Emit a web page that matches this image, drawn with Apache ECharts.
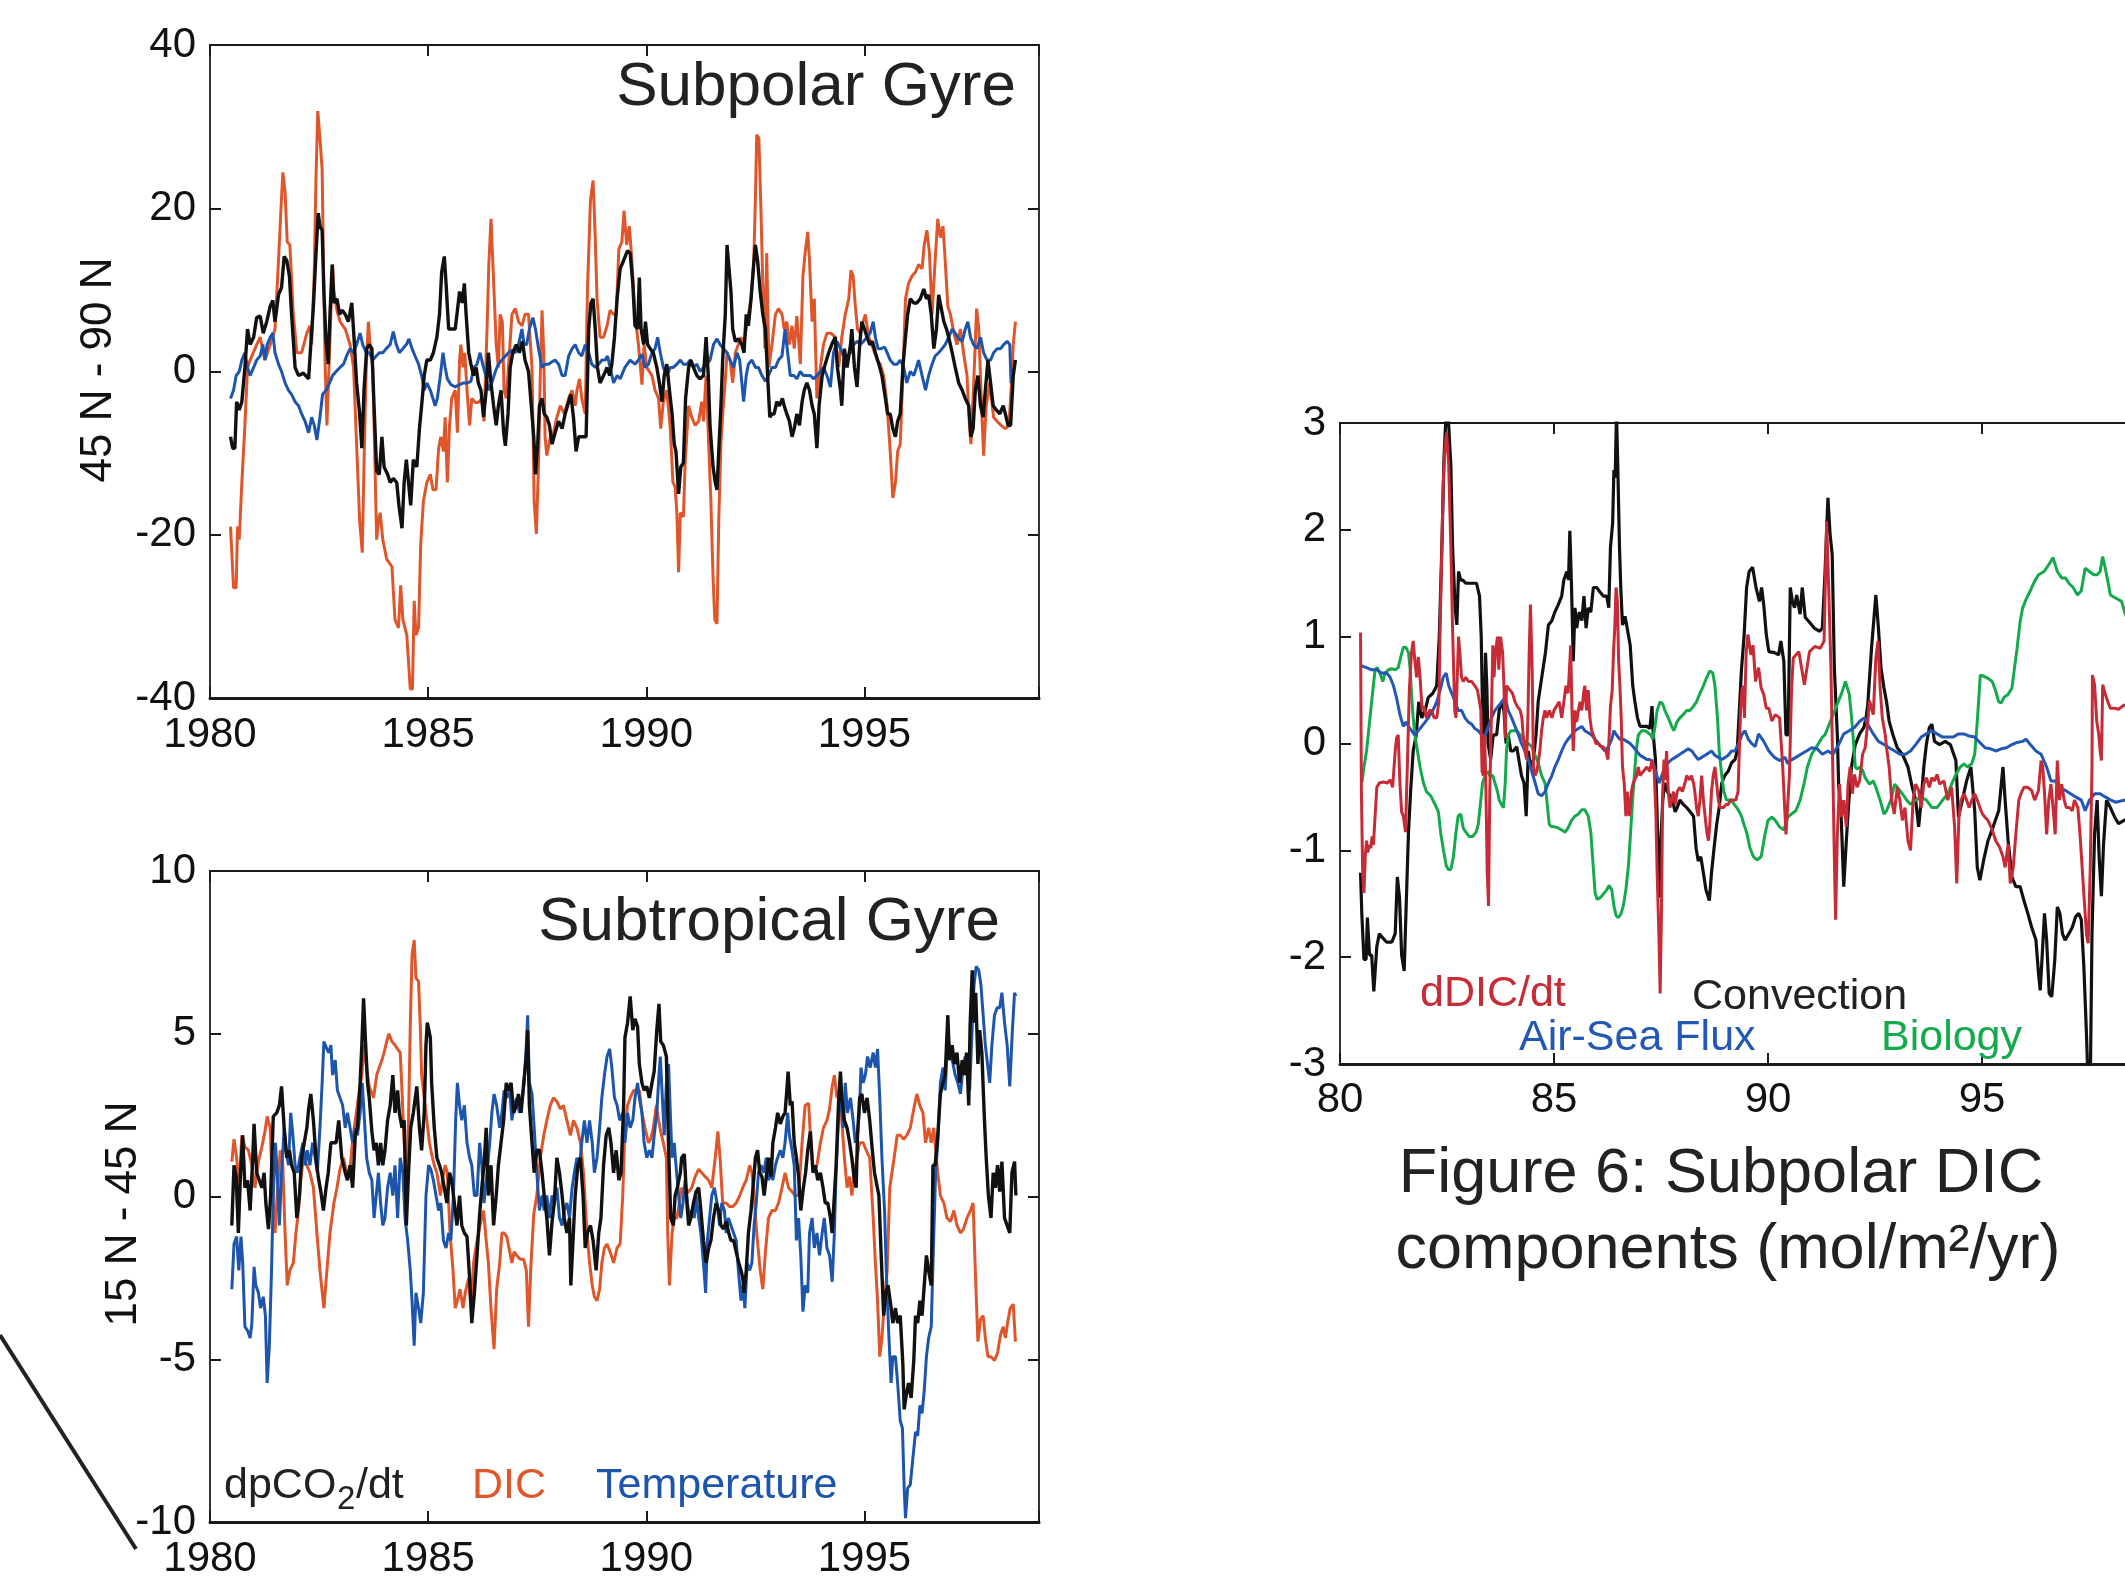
<!DOCTYPE html>
<html>
<head>
<meta charset="utf-8">
<script src="https://cdn.jsdelivr.net/npm/echarts@6/dist/echarts.min.js"></script>
<style>
html, body { margin: 0; padding: 0; background: #fff; }
#chart { width: 2125px; height: 1584px; }
</style>
</head>
<body>
<div id="chart"></div>
<script>
// Subpolar gyre (45N-90N): [year, value]
var spDic = [[1980.47,-19],[1980.54,-26.5],[1980.60,-26.5],[1980.63,-19],[1980.67,-20.6],[1980.73,-13.6],[1980.80,-6.6],[1980.86,0.5],[1980.92,1.4],[1981.07,3.3],[1981.15,4.2],[1981.26,1.4],[1981.38,3.3],[1981.49,5.2],[1981.57,13.6],[1981.62,19.2],[1981.67,24.4],[1981.72,22],[1981.77,15.9],[1981.83,15.5],[1981.91,7],[1981.99,2.3],[1982.10,2.3],[1982.22,4.7],[1982.29,5.6],[1982.33,3.3],[1982.39,12.2],[1982.43,23.9],[1982.47,31.9],[1982.52,28.6],[1982.57,24.8],[1982.60,13.1],[1982.64,0.5],[1982.68,-6.6],[1982.72,-0.5],[1982.77,7],[1982.81,13.1],[1982.84,9.8],[1982.91,7.5],[1982.98,6.1],[1983.10,5.2],[1983.21,3.3],[1983.29,0.5],[1983.36,-8.9],[1983.43,-18.3],[1983.49,-22.2],[1983.53,-11.2],[1983.58,0.5],[1983.63,6.1],[1983.67,3.3],[1983.73,0.5],[1983.78,-11.2],[1983.82,-20.6],[1983.86,-18.3],[1983.90,-17.3],[1983.96,-20.6],[1984.05,-23],[1984.17,-23.9],[1984.24,-30.4],[1984.32,-31.4],[1984.37,-26.2],[1984.42,-30.4],[1984.51,-32.3],[1984.59,-38.9],[1984.64,-38.9],[1984.68,-28.1],[1984.72,-32.3],[1984.78,-31.4],[1984.83,-21.1],[1984.89,-15.9],[1984.97,-13.6],[1985.05,-12.6],[1985.11,-14.5],[1985.18,-14.5],[1985.24,-9.4],[1985.29,-8],[1985.35,-9.8],[1985.39,-5.6],[1985.44,-13.6],[1985.49,-6.6],[1985.54,-3.3],[1985.62,-2.3],[1985.67,-7.5],[1985.72,1.4],[1985.75,3.3],[1985.80,0.5],[1985.84,2.3],[1985.89,-2.3],[1985.95,-6.6],[1986.00,-3.3],[1986.08,-3.8],[1986.15,-3.8],[1986.23,-3.3],[1986.28,-6.1],[1986.35,5.2],[1986.39,13.1],[1986.44,18.7],[1986.48,18.7],[1986.51,9.8],[1986.56,3.3],[1986.61,0.5],[1986.65,7],[1986.70,6.1],[1986.74,-2.3],[1986.79,-3.3],[1986.84,0.5],[1986.92,7],[1987.00,7.7],[1987.07,6.1],[1987.15,5.6],[1987.22,7],[1987.30,7],[1987.38,0.5],[1987.43,-15.9],[1987.48,-19.9],[1987.53,-11.2],[1987.57,-0.5],[1987.61,7.5],[1987.65,2.3],[1987.68,-8],[1987.72,-10.3],[1987.80,-8],[1987.87,-7.5],[1987.95,-5.6],[1988.03,-4.2],[1988.12,-5.2],[1988.22,-3.3],[1988.30,-2.3],[1988.37,-4.2],[1988.41,-2.3],[1988.47,-0.9],[1988.52,-3.3],[1988.60,-5.2],[1988.65,9.8],[1988.72,21],[1988.78,23.4],[1988.83,16.4],[1988.87,8.9],[1988.94,4.2],[1989.02,4.2],[1989.10,5.6],[1989.17,7.5],[1989.25,7],[1989.31,7],[1989.37,15],[1989.44,15.9],[1989.49,19.7],[1989.55,15.5],[1989.61,17.8],[1989.67,13.6],[1989.74,7],[1989.82,3.3],[1989.90,-1.6],[1989.95,3.3],[1990.01,0.5],[1990.13,-0.5],[1990.20,-2.3],[1990.28,-3.3],[1990.33,-7],[1990.39,-3.7],[1990.47,-2.3],[1990.55,-7],[1990.61,-13.6],[1990.66,-14.1],[1990.70,-17.3],[1990.74,-24.6],[1990.78,-17.3],[1990.85,-17.8],[1990.89,-11.2],[1990.97,-4.2],[1991.04,-5.6],[1991.12,-6.6],[1991.20,-6.1],[1991.27,-3.7],[1991.31,-6.1],[1991.37,-0.5],[1991.43,-8.9],[1991.48,-15.9],[1991.53,-25.3],[1991.57,-30.4],[1991.62,-30.9],[1991.66,-18.3],[1991.71,-8.9],[1991.75,-5.2],[1991.80,-1.9],[1991.85,2.3],[1991.92,1.4],[1991.98,-1.4],[1992.04,2.3],[1992.11,3.3],[1992.17,4.2],[1992.23,3.3],[1992.29,5.2],[1992.34,7],[1992.40,8.9],[1992.46,13.1],[1992.50,21.1],[1992.53,29],[1992.58,28.6],[1992.63,19.2],[1992.67,10.8],[1992.72,2.8],[1992.76,14.5],[1992.81,0.5],[1992.88,3.3],[1992.96,7],[1993.03,7.7],[1993.11,7],[1993.16,5.2],[1993.22,6.1],[1993.28,3.3],[1993.34,5.6],[1993.39,2.8],[1993.45,6.8],[1993.53,0.9],[1993.59,11.7],[1993.64,14.5],[1993.70,17.1],[1993.74,13.6],[1993.80,6.1],[1993.85,8.9],[1993.91,-3.3],[1993.99,0.5],[1994.06,3.3],[1994.14,4.7],[1994.23,4.7],[1994.33,4.2],[1994.41,0.5],[1994.48,4.2],[1994.56,7],[1994.64,8.9],[1994.69,12.4],[1994.74,11.7],[1994.79,8],[1994.84,5.2],[1994.90,4.7],[1994.97,6.1],[1995.02,7],[1995.10,4.2],[1995.20,2.8],[1995.29,1.4],[1995.36,0.9],[1995.44,-0.5],[1995.52,-4.2],[1995.59,-9.8],[1995.65,-15.5],[1995.71,-13.6],[1995.76,-9.8],[1995.82,-8.9],[1995.88,-0.5],[1995.94,8.9],[1996.01,10.8],[1996.09,11.7],[1996.17,12.2],[1996.24,13.1],[1996.32,12.6],[1996.37,15.5],[1996.43,17.3],[1996.49,14.5],[1996.55,7],[1996.62,13.6],[1996.68,18.7],[1996.74,16.4],[1996.80,17.8],[1996.85,13.6],[1996.91,8],[1996.97,7],[1997.05,4.7],[1997.12,3.3],[1997.20,5.2],[1997.27,2.3],[1997.35,-0.5],[1997.41,-7],[1997.44,-8.9],[1997.50,-1.9],[1997.57,7.7],[1997.62,5.2],[1997.67,-2.3],[1997.73,-10.3],[1997.79,-4.2],[1997.87,-1.4],[1997.96,-5.6],[1998.04,-6.1],[1998.13,-6.6],[1998.23,-7],[1998.31,-6.6],[1998.36,-2.3],[1998.41,3.3],[1998.46,6.1]];

var spTemp = [[1980.47,-3.3],[1980.54,-2.3],[1980.60,-0.5],[1980.67,0],[1980.73,1.4],[1980.80,2.3],[1980.86,0.5],[1980.92,-0.5],[1981.00,0.5],[1981.07,1.4],[1981.15,1.9],[1981.21,3.3],[1981.26,1.4],[1981.31,3.3],[1981.38,4.2],[1981.44,4.7],[1981.49,2.3],[1981.57,0.9],[1981.64,0],[1981.72,-1.4],[1981.80,-2.3],[1981.87,-2.8],[1981.95,-3.7],[1982.03,-4.2],[1982.10,-5.2],[1982.18,-6.1],[1982.26,-7.5],[1982.33,-5.6],[1982.39,-6.6],[1982.45,-8.4],[1982.52,-5.6],[1982.58,-2.8],[1982.66,-2.3],[1982.74,-1.4],[1982.81,-0.5],[1982.89,0],[1982.98,0.5],[1983.06,0.9],[1983.13,1.9],[1983.21,2.8],[1983.29,2.3],[1983.36,3.3],[1983.44,4.7],[1983.50,3.3],[1983.58,2.3],[1983.65,2.3],[1983.73,1.4],[1983.81,1.9],[1983.88,2.3],[1983.96,2.3],[1984.04,2.8],[1984.13,3.3],[1984.20,4.9],[1984.27,3.3],[1984.34,2.3],[1984.42,2.8],[1984.50,3.3],[1984.56,4],[1984.63,2.8],[1984.70,1.9],[1984.78,0.9],[1984.85,-0.5],[1984.91,-2.3],[1984.97,-1.4],[1985.05,-2.3],[1985.11,-3.3],[1985.16,-4.2],[1985.21,-3.3],[1985.28,-0.5],[1985.34,2.3],[1985.39,0.5],[1985.44,-0.9],[1985.52,-1.6],[1985.62,-1.9],[1985.72,-1.6],[1985.81,-1.4],[1985.90,-1.4],[1985.98,-1.2],[1986.05,0.5],[1986.12,0.9],[1986.19,2.3],[1986.25,0.9],[1986.32,-0.5],[1986.38,-2.3],[1986.46,-1.4],[1986.54,0],[1986.61,0.9],[1986.69,1.4],[1986.77,1.9],[1986.84,2.3],[1986.92,2.6],[1987.00,2.3],[1987.07,3.3],[1987.15,5.2],[1987.20,3.3],[1987.26,3.3],[1987.32,5.2],[1987.40,6.6],[1987.46,5.2],[1987.53,2.8],[1987.61,0.5],[1987.68,0.9],[1987.76,0.9],[1987.84,1.2],[1987.91,1.4],[1987.99,0.9],[1988.07,-0.5],[1988.14,-0.5],[1988.22,1.9],[1988.30,2.8],[1988.37,3.3],[1988.45,2.3],[1988.52,1.9],[1988.60,3.3],[1988.68,2.3],[1988.75,0.9],[1988.83,0.5],[1988.91,0.9],[1988.98,1.4],[1989.06,1.4],[1989.11,1.9],[1989.17,0.5],[1989.25,-1.4],[1989.33,-0.5],[1989.40,-0.9],[1989.51,0.5],[1989.63,1.4],[1989.74,0.9],[1989.82,1.4],[1989.90,2.1],[1989.97,0.5],[1990.05,0.9],[1990.13,2.3],[1990.20,2.8],[1990.26,4.2],[1990.32,2.3],[1990.39,0.5],[1990.47,-0.5],[1990.55,0.5],[1990.62,0.5],[1990.70,0.9],[1990.78,1.4],[1990.85,0.9],[1990.93,0.9],[1991.01,1.4],[1991.08,0.5],[1991.16,0.9],[1991.23,0],[1991.31,0.5],[1991.39,0.9],[1991.46,1.4],[1991.54,3.3],[1991.62,4],[1991.69,3.3],[1991.77,2.8],[1991.85,2.3],[1991.92,1.4],[1992.00,0.5],[1992.08,2.3],[1992.14,1.4],[1992.19,-1.4],[1992.23,-3.7],[1992.29,-0.5],[1992.34,0.9],[1992.42,1.4],[1992.50,0.5],[1992.57,0.5],[1992.65,-0.5],[1992.73,-1.2],[1992.80,-0.5],[1992.88,0.5],[1992.96,0.5],[1993.03,1.4],[1993.11,1.9],[1993.18,5.2],[1993.24,2.3],[1993.30,-0.5],[1993.38,-0.5],[1993.45,-0.9],[1993.53,0],[1993.60,-0.5],[1993.68,-0.5],[1993.76,-0.5],[1993.83,-0.9],[1993.91,-0.5],[1993.99,0],[1994.06,0.5],[1994.14,-0.5],[1994.22,-1.9],[1994.29,2.3],[1994.37,3.7],[1994.45,2.8],[1994.52,1.9],[1994.60,1.9],[1994.68,2.3],[1994.75,3.3],[1994.83,3.7],[1994.90,3.3],[1994.98,3.7],[1995.06,4.2],[1995.13,4.7],[1995.20,6.1],[1995.25,4.2],[1995.31,2.8],[1995.38,2.8],[1995.46,3],[1995.52,2.3],[1995.59,1.4],[1995.67,0.9],[1995.75,0.9],[1995.82,1.4],[1995.90,0.5],[1995.97,-1.4],[1996.05,0],[1996.13,-0.5],[1996.19,0.5],[1996.24,1.4],[1996.32,-0.5],[1996.40,-2.3],[1996.47,-0.5],[1996.55,0.9],[1996.62,1.9],[1996.70,2.3],[1996.78,2.8],[1996.85,3.3],[1996.93,4.2],[1997.01,5.2],[1997.08,4.7],[1997.16,4],[1997.24,3.7],[1997.31,5.2],[1997.37,6.1],[1997.43,4.2],[1997.50,3.3],[1997.58,2.8],[1997.66,4.2],[1997.73,2.3],[1997.81,1.4],[1997.89,1.4],[1997.96,2.3],[1998.04,2.8],[1998.12,2.8],[1998.19,3.3],[1998.27,3.7],[1998.33,3.3],[1998.36,-1.4],[1998.39,0.5]];

var spPco2 = [[1980.47,-8],[1980.52,-9.4],[1980.57,-9.4],[1980.61,-3.7],[1980.67,-4.7],[1980.73,-3.7],[1980.80,0.5],[1980.86,5.2],[1980.92,3.3],[1981.00,4.2],[1981.07,6.6],[1981.15,6.8],[1981.22,4.7],[1981.30,6.1],[1981.38,8],[1981.44,8.7],[1981.49,6.1],[1981.57,9.4],[1981.64,10.3],[1981.70,14.1],[1981.76,13.6],[1981.82,11.7],[1981.87,7],[1981.95,0.5],[1982.03,-0.5],[1982.14,-0.2],[1982.26,-0.9],[1982.31,3.3],[1982.37,8],[1982.43,14.5],[1982.48,19.4],[1982.52,17.8],[1982.57,17.3],[1982.61,9.8],[1982.66,3.7],[1982.71,0.9],[1982.75,7],[1982.80,13.1],[1982.84,8.4],[1982.91,8.9],[1982.97,7],[1983.03,7.5],[1983.10,7],[1983.17,6.1],[1983.25,8.4],[1983.30,4.2],[1983.36,-1.4],[1983.43,-5.2],[1983.48,-9.4],[1983.53,-2.3],[1983.59,2.8],[1983.65,3.3],[1983.71,2.8],[1983.76,-4.2],[1983.82,-12.2],[1983.88,-12.6],[1983.94,-8],[1983.99,-11.7],[1984.07,-12.6],[1984.13,-13.6],[1984.20,-13.1],[1984.28,-13.6],[1984.33,-16.4],[1984.40,-19.2],[1984.45,-13.6],[1984.50,-10.8],[1984.55,-13.6],[1984.60,-16.4],[1984.66,-10.8],[1984.74,-11.7],[1984.80,-7],[1984.85,-4.2],[1984.91,-0.5],[1984.97,1.4],[1985.05,1.4],[1985.12,2.3],[1985.20,4.2],[1985.26,7],[1985.31,12.2],[1985.37,14.1],[1985.41,10.8],[1985.47,5.2],[1985.54,5.2],[1985.62,5.2],[1985.66,7],[1985.72,9.8],[1985.78,8.4],[1985.83,10.8],[1985.87,7],[1985.93,2.3],[1985.98,0.9],[1986.04,-0.5],[1986.10,0.5],[1986.15,-1.4],[1986.21,-2.3],[1986.27,-5.6],[1986.33,-2.3],[1986.38,2.3],[1986.44,-1.4],[1986.50,-4.2],[1986.56,-6.6],[1986.61,-4.2],[1986.67,-2.3],[1986.73,-7.5],[1986.77,-9.1],[1986.83,-5.2],[1986.88,0.5],[1986.94,2.3],[1987.02,3.3],[1987.09,2.3],[1987.16,3.7],[1987.22,1.4],[1987.30,0],[1987.35,-3.3],[1987.42,-8],[1987.46,-12.6],[1987.51,-8.9],[1987.55,-4.2],[1987.61,-3.3],[1987.66,-5.2],[1987.72,-5.6],[1987.78,-6.6],[1987.84,-8.9],[1987.91,-7.5],[1987.99,-6.1],[1988.07,-7],[1988.14,-5.2],[1988.22,-3.7],[1988.27,-2.8],[1988.33,-5.6],[1988.39,-9.8],[1988.45,-8],[1988.50,-8],[1988.56,-8],[1988.62,-8],[1988.68,5.2],[1988.73,8.4],[1988.78,8.9],[1988.83,5.2],[1988.88,0.5],[1988.94,-1.4],[1989.02,-0.5],[1989.10,0.5],[1989.16,-0.5],[1989.21,0.9],[1989.27,4.2],[1989.33,8.9],[1989.40,12.6],[1989.48,13.6],[1989.57,14.8],[1989.63,14.5],[1989.69,10.8],[1989.74,5.6],[1989.80,5.2],[1989.84,11.5],[1989.88,5.2],[1989.94,3.3],[1989.98,6.1],[1990.03,3.3],[1990.09,2.8],[1990.16,2.3],[1990.24,0.5],[1990.30,-1.4],[1990.36,-3.7],[1990.41,-0.5],[1990.47,0.9],[1990.53,-2.3],[1990.59,-5.2],[1990.64,-8.9],[1990.68,-9.8],[1990.74,-15],[1990.79,-11.7],[1990.85,-11.2],[1990.90,-3.3],[1990.97,0.5],[1991.02,1.4],[1991.08,0.5],[1991.16,-0.5],[1991.23,-0.9],[1991.31,-0.5],[1991.37,4.2],[1991.42,-0.5],[1991.46,-6.6],[1991.53,-11.7],[1991.58,-13.6],[1991.62,-14.5],[1991.66,-9.8],[1991.71,-4.2],[1991.75,1.4],[1991.81,7],[1991.85,15.5],[1991.89,15.5],[1991.94,9.8],[1991.98,5.2],[1992.04,3.7],[1992.11,4],[1992.19,3.3],[1992.24,2.3],[1992.29,7],[1992.34,5.6],[1992.40,8.9],[1992.46,13.1],[1992.50,15.5],[1992.55,13.6],[1992.61,9.8],[1992.67,7],[1992.73,5.2],[1992.78,-0.5],[1992.83,-5.6],[1992.88,-5.2],[1992.93,-5.2],[1992.99,-3.7],[1993.05,-4.2],[1993.12,-3.3],[1993.16,-4.2],[1993.22,-5.2],[1993.28,-6.1],[1993.34,-8],[1993.39,-7],[1993.45,-5.2],[1993.51,-6.6],[1993.57,-3.7],[1993.62,-2.3],[1993.68,-1.4],[1993.74,-2.3],[1993.80,-4.2],[1993.85,-5.2],[1993.91,-9.4],[1993.96,-4.2],[1994.03,-0.5],[1994.10,0.9],[1994.18,2.3],[1994.25,3.3],[1994.33,4.2],[1994.38,0.5],[1994.45,-2.3],[1994.48,-4.2],[1994.54,2.8],[1994.60,0.5],[1994.68,3.3],[1994.71,5.2],[1994.77,0.5],[1994.83,-1.9],[1994.89,3.3],[1994.94,6.1],[1995.00,5.2],[1995.06,4.2],[1995.12,3.3],[1995.18,3.7],[1995.25,2.3],[1995.33,0.9],[1995.40,-0.5],[1995.48,-3.3],[1995.53,-5.2],[1995.59,-5.2],[1995.65,-7],[1995.71,-8],[1995.76,-6.1],[1995.82,-5.2],[1995.88,0.5],[1995.94,4.2],[1995.99,7],[1996.05,8.9],[1996.13,8.4],[1996.20,8.4],[1996.28,8.9],[1996.36,10.1],[1996.42,8.9],[1996.47,9.4],[1996.53,7],[1996.59,2.8],[1996.65,5.2],[1996.70,9.4],[1996.75,8],[1996.82,6.1],[1996.88,5.2],[1996.93,4.2],[1997.01,2.3],[1997.08,0.5],[1997.16,-1.4],[1997.24,-2.3],[1997.31,-3.3],[1997.39,-4.2],[1997.44,-8],[1997.49,-7],[1997.54,-2.3],[1997.60,-0.5],[1997.66,-4.2],[1997.72,-5.6],[1997.77,-2.3],[1997.83,1.4],[1997.89,-1.4],[1997.95,-4.2],[1998.02,-4.7],[1998.10,-5.2],[1998.18,-4.2],[1998.23,-5.2],[1998.29,-6.6],[1998.35,-6.6],[1998.41,-0.5],[1998.46,1.4]];

// Subtropical gyre (15N-45N)
var stDic = [[1980.50,1.07],[1980.55,1.76],[1980.61,1.19],[1980.67,0.27],[1980.73,1.88],[1980.80,1.53],[1980.88,1.42],[1980.96,0.96],[1981.03,0.27],[1981.11,1.07],[1981.19,1.53],[1981.26,2.0],[1981.31,2.46],[1981.38,2.1],[1981.44,0.03],[1981.49,-1.12],[1981.54,0.03],[1981.61,1.42],[1981.67,0.96],[1981.72,-1.12],[1981.77,-2.73],[1981.83,-2.27],[1981.91,-2.04],[1981.97,-1.12],[1982.03,-0.43],[1982.08,0.5],[1982.14,1.19],[1982.22,0.96],[1982.29,0.73],[1982.37,0.27],[1982.45,-1.12],[1982.52,-2.27],[1982.61,-3.43],[1982.68,-2.27],[1982.75,-1.12],[1982.84,-0.2],[1982.91,0.27],[1982.98,0.84],[1983.06,1.19],[1983.13,0.73],[1983.21,0.84],[1983.27,1.76],[1983.33,2.34],[1983.40,3.03],[1983.48,3.73],[1983.53,4.65],[1983.59,3.96],[1983.65,3.38],[1983.75,3.03],[1983.82,3.73],[1983.88,3.96],[1983.94,4.19],[1983.99,4.42],[1984.05,4.76],[1984.10,5.0],[1984.17,4.76],[1984.24,4.65],[1984.30,4.53],[1984.36,4.42],[1984.40,3.26],[1984.45,1.65],[1984.51,0.73],[1984.55,2.34],[1984.59,5.22],[1984.63,7.42],[1984.68,7.88],[1984.72,6.72],[1984.78,6.61],[1984.82,5.22],[1984.85,3.73],[1984.91,3.03],[1984.97,2.34],[1985.03,1.65],[1985.08,1.3],[1985.14,0.96],[1985.20,0.73],[1985.28,0.03],[1985.34,0.61],[1985.39,0.96],[1985.44,0.73],[1985.50,-1.12],[1985.57,-2.27],[1985.62,-3.43],[1985.67,-3.2],[1985.73,-2.85],[1985.80,-3.43],[1985.85,-2.96],[1985.93,-2.5],[1985.98,-3.43],[1986.04,-2.04],[1986.12,-1.35],[1986.19,-0.89],[1986.27,-0.43],[1986.33,-1.35],[1986.38,-2.04],[1986.44,-3.43],[1986.51,-4.69],[1986.57,-2.85],[1986.64,-2.04],[1986.69,-1.12],[1986.74,-1.12],[1986.80,-1.23],[1986.87,-1.7],[1986.92,-2.04],[1986.97,-1.7],[1987.03,-1.81],[1987.11,-1.93],[1987.19,-1.93],[1987.25,-2.27],[1987.30,-4.0],[1987.35,-2.27],[1987.42,-0.54],[1987.49,0.03],[1987.57,1.19],[1987.65,1.88],[1987.72,2.34],[1987.80,2.8],[1987.87,3.03],[1987.95,2.92],[1988.03,2.69],[1988.10,2.8],[1988.18,2.34],[1988.26,1.88],[1988.33,2.34],[1988.41,2.11],[1988.49,1.65],[1988.56,0.73],[1988.64,-1.12],[1988.70,-2.04],[1988.76,-2.73],[1988.81,-3.08],[1988.87,-3.2],[1988.93,-2.85],[1988.98,-2.04],[1989.04,-1.58],[1989.10,-1.46],[1989.17,-1.7],[1989.25,-2.04],[1989.33,-1.58],[1989.40,-1.46],[1989.46,0.03],[1989.51,2.11],[1989.57,2.8],[1989.63,3.03],[1989.71,3.26],[1989.78,3.26],[1989.84,3.26],[1989.90,2.57],[1989.97,2.11],[1990.05,1.65],[1990.10,1.76],[1990.16,2.11],[1990.23,2.8],[1990.28,2.34],[1990.33,2.0],[1990.39,1.65],[1990.46,1.19],[1990.49,-1.12],[1990.53,-2.73],[1990.59,-1.12],[1990.64,-0.66],[1990.70,-0.66],[1990.76,-0.2],[1990.81,0.27],[1990.89,0.03],[1990.97,0.15],[1991.04,0.27],[1991.12,0.61],[1991.20,0.84],[1991.27,0.73],[1991.35,0.61],[1991.43,0.5],[1991.50,0.27],[1991.58,1.19],[1991.64,2.0],[1991.69,1.19],[1991.75,-0.2],[1991.83,-0.2],[1991.91,-0.31],[1991.98,-0.31],[1992.06,-0.2],[1992.14,0.03],[1992.21,0.27],[1992.29,0.5],[1992.37,0.96],[1992.42,0.73],[1992.47,0.03],[1992.53,-1.12],[1992.61,-2.27],[1992.67,-2.85],[1992.73,-1.7],[1992.80,-0.66],[1992.88,-0.43],[1992.96,-0.43],[1993.03,-0.2],[1993.11,0.27],[1993.18,0.73],[1993.26,0.27],[1993.34,0.15],[1993.41,0.03],[1993.49,0.03],[1993.57,1.65],[1993.64,2.8],[1993.72,2.86],[1993.77,1.65],[1993.83,0.73],[1993.91,0.96],[1993.99,1.65],[1994.06,2.11],[1994.14,2.34],[1994.20,2.69],[1994.26,3.38],[1994.31,3.73],[1994.37,3.03],[1994.43,3.26],[1994.48,2.34],[1994.54,1.19],[1994.60,0.27],[1994.66,0.61],[1994.71,0.03],[1994.77,0.73],[1994.83,1.19],[1994.89,1.65],[1994.97,1.65],[1995.04,1.42],[1995.12,1.19],[1995.20,-0.66],[1995.25,-2.04],[1995.30,-3.2],[1995.35,-4.92],[1995.40,-4.35],[1995.46,-3.2],[1995.52,-2.27],[1995.58,0.27],[1995.63,0.73],[1995.68,1.19],[1995.75,1.88],[1995.82,1.88],[1995.90,1.76],[1995.97,1.88],[1996.05,2.11],[1996.13,2.69],[1996.20,3.15],[1996.27,2.8],[1996.34,2.57],[1996.40,1.65],[1996.47,2.11],[1996.53,1.65],[1996.59,2.11],[1996.63,1.42],[1996.68,0.73],[1996.74,0.03],[1996.82,-0.2],[1996.89,-0.66],[1996.97,-0.77],[1997.05,-0.43],[1997.12,-0.89],[1997.20,-1.12],[1997.27,-1.0],[1997.35,-0.66],[1997.43,-0.43],[1997.49,-0.2],[1997.54,-2.27],[1997.60,-4.46],[1997.66,-3.77],[1997.72,-3.66],[1997.77,-4.35],[1997.83,-4.92],[1997.90,-4.92],[1997.98,-5.04],[1998.05,-4.81],[1998.12,-4.23],[1998.18,-4.0],[1998.23,-4.35],[1998.28,-3.89],[1998.34,-3.43],[1998.41,-3.31],[1998.46,-4.46]];

var stTemp = [[1980.50,-2.85],[1980.55,-1.46],[1980.61,-1.23],[1980.66,-2.27],[1980.71,-1.23],[1980.75,-2.04],[1980.80,-4.0],[1980.86,-4.12],[1980.92,-4.35],[1980.96,-3.89],[1981.01,-2.16],[1981.05,-2.73],[1981.11,-2.96],[1981.16,-3.43],[1981.22,-3.08],[1981.27,-3.66],[1981.31,-5.73],[1981.36,-4.58],[1981.41,-2.27],[1981.45,0.03],[1981.50,1.65],[1981.54,0.73],[1981.59,-0.89],[1981.64,0.73],[1981.70,2.11],[1981.74,1.42],[1981.80,0.96],[1981.85,2.57],[1981.90,1.88],[1981.95,0.96],[1982.00,0.73],[1982.06,1.19],[1982.13,1.65],[1982.18,0.96],[1982.23,1.42],[1982.29,0.96],[1982.35,1.65],[1982.41,1.19],[1982.46,0.73],[1982.52,2.11],[1982.57,3.49],[1982.61,4.76],[1982.68,4.53],[1982.72,4.42],[1982.77,4.65],[1982.81,3.73],[1982.87,4.19],[1982.92,3.26],[1982.98,3.03],[1983.04,2.8],[1983.10,2.11],[1983.15,2.57],[1983.21,2.11],[1983.27,1.65],[1983.33,2.11],[1983.38,1.88],[1983.44,2.57],[1983.49,3.49],[1983.53,2.57],[1983.59,1.19],[1983.65,0.73],[1983.71,0.5],[1983.76,-0.66],[1983.81,0.03],[1983.86,0.73],[1983.91,-0.2],[1983.96,-0.89],[1984.01,-0.66],[1984.07,0.27],[1984.13,0.73],[1984.19,0.03],[1984.24,0.96],[1984.30,-0.66],[1984.36,1.19],[1984.42,0.73],[1984.47,-0.66],[1984.53,-1.35],[1984.59,-2.27],[1984.63,-3.2],[1984.68,-4.58],[1984.72,-2.96],[1984.78,-3.43],[1984.83,-3.89],[1984.89,-2.96],[1984.95,0.03],[1985.01,0.96],[1985.06,0.84],[1985.12,0.5],[1985.18,0.03],[1985.24,-0.43],[1985.29,-0.2],[1985.35,-1.35],[1985.41,-1.58],[1985.47,-1.12],[1985.52,-1.35],[1985.58,0.03],[1985.63,2.34],[1985.67,3.49],[1985.72,2.8],[1985.77,2.34],[1985.83,2.8],[1985.89,1.65],[1985.95,1.19],[1986.00,0.96],[1986.06,0.03],[1986.12,0.03],[1986.18,1.65],[1986.23,0.96],[1986.28,-0.2],[1986.35,0.73],[1986.41,1.65],[1986.46,2.57],[1986.51,3.15],[1986.57,2.8],[1986.64,2.11],[1986.69,2.57],[1986.74,3.26],[1986.80,3.03],[1986.87,3.26],[1986.92,2.34],[1986.97,2.8],[1987.03,3.03],[1987.09,2.57],[1987.15,2.92],[1987.20,3.49],[1987.25,4.65],[1987.28,5.57],[1987.32,3.49],[1987.38,3.15],[1987.43,2.11],[1987.49,0.73],[1987.55,-0.43],[1987.61,0.03],[1987.66,-0.43],[1987.72,0.03],[1987.78,-0.66],[1987.84,0.03],[1987.89,-0.2],[1987.95,0.27],[1988.01,-0.66],[1988.07,-0.89],[1988.12,-0.43],[1988.18,-0.2],[1988.24,-0.66],[1988.30,0.27],[1988.35,0.73],[1988.41,1.19],[1988.47,0.96],[1988.52,1.65],[1988.58,2.34],[1988.64,1.65],[1988.70,2.34],[1988.76,1.65],[1988.81,0.73],[1988.87,1.19],[1988.93,2.11],[1988.98,3.03],[1989.04,3.73],[1989.10,4.3],[1989.16,4.53],[1989.21,3.96],[1989.27,3.03],[1989.33,2.8],[1989.39,2.34],[1989.46,2.57],[1989.51,1.65],[1989.57,2.57],[1989.63,2.11],[1989.69,2.34],[1989.74,3.03],[1989.80,3.49],[1989.84,3.03],[1989.90,2.57],[1989.95,1.65],[1990.01,1.19],[1990.07,1.42],[1990.13,1.19],[1990.18,1.88],[1990.24,2.57],[1990.29,3.73],[1990.32,4.3],[1990.36,3.26],[1990.41,1.88],[1990.46,3.49],[1990.51,4.07],[1990.55,2.57],[1990.59,1.19],[1990.64,1.65],[1990.68,0.96],[1990.74,0.03],[1990.79,-0.66],[1990.84,-0.2],[1990.89,0.5],[1990.94,-0.2],[1990.99,-0.66],[1991.04,-0.43],[1991.10,-0.66],[1991.14,0.03],[1991.20,-0.66],[1991.25,-1.12],[1991.31,-2.04],[1991.36,-2.96],[1991.40,-1.35],[1991.45,-0.66],[1991.50,0.03],[1991.56,0.27],[1991.62,-0.2],[1991.68,-0.89],[1991.73,-0.2],[1991.79,-0.43],[1991.83,-1.12],[1991.88,-0.66],[1991.94,-0.89],[1992.00,-1.12],[1992.06,-1.35],[1992.11,-2.27],[1992.17,-3.2],[1992.21,-2.73],[1992.26,-3.43],[1992.31,-2.04],[1992.37,-2.27],[1992.42,-2.04],[1992.47,-0.89],[1992.52,-0.2],[1992.57,0.73],[1992.63,0.96],[1992.69,0.73],[1992.75,1.19],[1992.80,0.5],[1992.86,0.73],[1992.90,0.5],[1992.96,0.96],[1993.01,1.19],[1993.07,1.42],[1993.13,1.19],[1993.18,1.65],[1993.24,2.57],[1993.28,1.88],[1993.34,1.42],[1993.39,0.96],[1993.44,-1.35],[1993.49,-0.66],[1993.54,-1.81],[1993.59,-3.54],[1993.64,-2.73],[1993.70,-2.96],[1993.74,-1.12],[1993.80,-0.66],[1993.85,-1.58],[1993.91,-1.12],[1993.97,-1.81],[1994.03,-1.12],[1994.08,-0.66],[1994.14,-1.58],[1994.20,-1.81],[1994.26,-2.62],[1994.31,-1.12],[1994.35,0.73],[1994.41,2.57],[1994.45,3.26],[1994.51,2.11],[1994.56,3.49],[1994.61,2.57],[1994.68,3.03],[1994.74,2.34],[1994.79,1.65],[1994.84,1.88],[1994.89,2.8],[1994.92,3.96],[1994.97,3.49],[1995.02,3.73],[1995.07,4.3],[1995.13,3.96],[1995.20,4.42],[1995.25,3.96],[1995.30,4.53],[1995.35,3.03],[1995.40,1.19],[1995.46,-0.43],[1995.50,-2.27],[1995.55,-4.0],[1995.61,-5.73],[1995.65,-4.92],[1995.71,-4.92],[1995.76,-5.73],[1995.82,-6.89],[1995.87,-7.12],[1995.91,-8.96],[1995.94,-9.88],[1995.99,-8.96],[1996.05,-8.85],[1996.11,-8.04],[1996.17,-7.23],[1996.22,-7.35],[1996.27,-6.42],[1996.32,-6.66],[1996.37,-5.96],[1996.42,-4.92],[1996.47,-4.35],[1996.53,-4.0],[1996.59,-1.12],[1996.63,0.73],[1996.68,1.65],[1996.74,3.49],[1996.80,3.96],[1996.85,3.26],[1996.91,4.88],[1996.97,4.42],[1997.03,4.07],[1997.08,3.73],[1997.14,3.49],[1997.20,3.15],[1997.26,3.96],[1997.31,4.3],[1997.37,3.73],[1997.41,3.26],[1997.47,5.22],[1997.51,6.49],[1997.56,7.07],[1997.62,6.95],[1997.67,6.49],[1997.72,5.57],[1997.77,4.65],[1997.83,3.96],[1997.87,3.49],[1997.92,4.65],[1997.98,5.57],[1998.04,5.8],[1998.10,5.8],[1998.15,6.26],[1998.21,5.34],[1998.27,4.65],[1998.33,3.38],[1998.39,5.11],[1998.44,6.26],[1998.47,6.15]];

var stPco2 = [[1980.50,-0.89],[1980.55,0.96],[1980.60,0.61],[1980.65,-1.12],[1980.70,0.73],[1980.75,1.88],[1980.80,0.27],[1980.86,0.5],[1980.92,-0.43],[1980.98,1.19],[1981.01,2.23],[1981.07,0.73],[1981.13,0.5],[1981.19,0.27],[1981.24,0.73],[1981.28,-0.2],[1981.34,-1.0],[1981.39,0.03],[1981.45,2.46],[1981.53,2.57],[1981.59,2.8],[1981.64,3.38],[1981.70,2.11],[1981.76,1.19],[1981.82,1.42],[1981.87,0.96],[1981.93,0.73],[1981.99,-0.66],[1982.05,0.03],[1982.10,1.19],[1982.16,1.65],[1982.22,2.11],[1982.26,2.69],[1982.31,3.15],[1982.37,2.34],[1982.43,1.19],[1982.48,0.61],[1982.54,0.15],[1982.60,-0.43],[1982.66,0.27],[1982.71,0.73],[1982.77,1.65],[1982.83,1.65],[1982.89,1.65],[1982.95,2.34],[1983.02,1.19],[1983.10,0.73],[1983.15,0.5],[1983.21,0.96],[1983.27,0.27],[1983.33,1.88],[1983.38,2.11],[1983.44,3.49],[1983.48,4.65],[1983.52,6.09],[1983.56,4.88],[1983.61,3.49],[1983.65,3.03],[1983.71,2.0],[1983.76,1.42],[1983.81,1.65],[1983.86,0.96],[1983.91,1.65],[1983.96,0.96],[1984.01,1.42],[1984.07,2.34],[1984.13,2.8],[1984.19,3.73],[1984.24,2.57],[1984.30,3.26],[1984.34,2.57],[1984.40,2.11],[1984.45,2.34],[1984.50,-0.89],[1984.55,0.73],[1984.60,2.11],[1984.66,2.57],[1984.74,3.38],[1984.80,2.11],[1984.85,1.42],[1984.91,2.57],[1984.95,4.65],[1984.98,5.34],[1985.05,4.88],[1985.08,3.49],[1985.14,2.11],[1985.20,1.19],[1985.26,0.96],[1985.31,0.73],[1985.37,0.27],[1985.43,-0.2],[1985.49,0.73],[1985.54,0.5],[1985.60,-0.2],[1985.66,-0.89],[1985.72,0.03],[1985.77,-0.89],[1985.83,-1.12],[1985.89,-1.23],[1985.95,-2.5],[1986.00,-3.89],[1986.06,-2.96],[1986.12,-1.81],[1986.18,-0.54],[1986.23,0.27],[1986.28,0.96],[1986.33,2.11],[1986.38,0.03],[1986.44,0.96],[1986.50,-0.89],[1986.56,0.03],[1986.61,0.96],[1986.67,1.65],[1986.73,2.34],[1986.79,3.49],[1986.84,3.26],[1986.90,3.49],[1986.96,2.57],[1987.02,2.8],[1987.07,3.15],[1987.13,2.57],[1987.19,3.49],[1987.25,4.3],[1987.28,5.11],[1987.32,2.8],[1987.38,1.65],[1987.43,0.73],[1987.49,1.42],[1987.55,1.42],[1987.61,0.73],[1987.66,0.03],[1987.72,-0.66],[1987.78,-1.81],[1987.84,-0.77],[1987.89,-0.2],[1987.95,1.19],[1988.01,0.73],[1988.07,0.03],[1988.12,-0.66],[1988.18,-1.12],[1988.24,-0.66],[1988.27,-2.73],[1988.32,-1.35],[1988.37,0.03],[1988.43,0.96],[1988.49,1.19],[1988.55,0.03],[1988.60,-1.58],[1988.65,-1.12],[1988.72,-0.89],[1988.78,-1.35],[1988.85,-2.27],[1988.91,-1.12],[1988.96,-0.66],[1989.02,0.96],[1989.08,1.88],[1989.14,2.11],[1989.19,1.65],[1989.25,0.73],[1989.31,1.42],[1989.37,0.5],[1989.42,0.73],[1989.48,2.8],[1989.51,4.88],[1989.57,5.34],[1989.63,6.15],[1989.69,5.11],[1989.74,5.46],[1989.80,5.22],[1989.84,4.07],[1989.90,3.49],[1989.95,3.26],[1990.01,3.38],[1990.07,3.03],[1990.13,3.49],[1990.18,3.84],[1990.24,5.11],[1990.29,5.92],[1990.33,4.76],[1990.39,4.65],[1990.46,4.3],[1990.51,1.53],[1990.56,-0.66],[1990.62,-0.89],[1990.66,0.03],[1990.71,0.27],[1990.78,0.73],[1990.81,1.19],[1990.87,1.3],[1990.93,-0.2],[1990.97,-0.89],[1991.02,-0.66],[1991.08,-0.2],[1991.14,0.15],[1991.20,0.27],[1991.25,-0.43],[1991.31,-1.35],[1991.37,-2.04],[1991.43,-1.58],[1991.48,-1.35],[1991.54,-0.66],[1991.60,-0.2],[1991.66,-0.43],[1991.71,-0.89],[1991.77,-1.0],[1991.83,-0.77],[1991.89,-1.12],[1991.94,-1.35],[1992.00,-1.35],[1992.06,-1.7],[1992.12,-2.04],[1992.17,-2.27],[1992.21,-2.5],[1992.24,-2.96],[1992.29,-2.27],[1992.34,-1.12],[1992.40,-0.43],[1992.46,0.5],[1992.50,1.19],[1992.55,1.42],[1992.60,0.73],[1992.65,0.61],[1992.70,0.03],[1992.76,0.73],[1992.80,1.19],[1992.86,0.61],[1992.90,1.65],[1992.96,2.11],[1993.01,2.57],[1993.07,2.23],[1993.13,2.46],[1993.18,2.57],[1993.22,3.26],[1993.25,3.84],[1993.30,2.8],[1993.34,2.92],[1993.39,1.65],[1993.44,1.19],[1993.49,0.61],[1993.54,-0.43],[1993.60,0.27],[1993.65,0.73],[1993.70,1.42],[1993.76,2.0],[1993.82,0.73],[1993.87,0.96],[1993.93,0.5],[1993.99,0.73],[1994.05,0.27],[1994.10,-0.2],[1994.16,-0.2],[1994.22,-0.66],[1994.26,-1.12],[1994.31,0.03],[1994.35,0.96],[1994.41,3.03],[1994.45,3.84],[1994.48,3.03],[1994.54,2.34],[1994.60,2.11],[1994.66,1.65],[1994.71,1.19],[1994.77,0.5],[1994.81,0.27],[1994.84,1.88],[1994.89,3.03],[1994.94,3.15],[1995.00,2.57],[1995.06,3.03],[1995.12,2.34],[1995.18,1.42],[1995.23,0.73],[1995.27,0.73],[1995.33,0.03],[1995.38,-1.7],[1995.44,-3.66],[1995.49,-2.96],[1995.54,-2.73],[1995.59,-3.2],[1995.65,-3.89],[1995.71,-3.43],[1995.76,-3.89],[1995.82,-3.66],[1995.88,-5.16],[1995.91,-6.54],[1995.96,-6.08],[1996.01,-5.73],[1996.07,-6.19],[1996.13,-5.04],[1996.17,-3.66],[1996.22,-3.89],[1996.27,-3.2],[1996.32,-3.66],[1996.37,-2.73],[1996.42,-1.81],[1996.47,-2.27],[1996.53,-2.73],[1996.57,0.96],[1996.62,0.96],[1996.68,1.88],[1996.74,3.15],[1996.80,3.49],[1996.85,3.73],[1996.91,5.57],[1996.95,4.19],[1997.01,4.65],[1997.06,4.07],[1997.12,4.42],[1997.18,3.49],[1997.24,4.19],[1997.29,3.73],[1997.34,4.42],[1997.39,2.8],[1997.42,5.22],[1997.47,6.95],[1997.51,5.34],[1997.55,6.26],[1997.60,4.07],[1997.64,5.11],[1997.69,4.42],[1997.75,2.34],[1997.79,1.19],[1997.84,0.03],[1997.90,-0.66],[1997.95,0.73],[1998.00,0.27],[1998.05,0.96],[1998.10,0.15],[1998.15,1.07],[1998.21,-0.66],[1998.27,-0.89],[1998.33,-1.12],[1998.38,0.73],[1998.44,1.07],[1998.47,0.03]];

// Subpolar DIC components, x in 2-digit years
var convection = [[80.48,-1.21],[80.51,-1.6],[80.56,-2.02],[80.61,-2.02],[80.64,-1.63],[80.69,-1.98],[80.74,-1.98],[80.79,-2.32],[80.86,-1.9],[80.92,-1.78],[81.0,-1.82],[81.09,-1.86],[81.21,-1.86],[81.29,-1.78],[81.34,-1.25],[81.39,-1.44],[81.44,-1.98],[81.5,-2.13],[81.54,-1.6],[81.6,-0.83],[81.65,-0.45],[81.71,-0.07],[81.78,0.08],[81.84,0.39],[81.91,0.24],[81.99,0.31],[82.06,0.43],[82.17,0.47],[82.26,0.54],[82.32,1.0],[82.38,1.84],[82.43,2.68],[82.48,3.1],[82.53,3.05],[82.59,2.6],[82.63,1.84],[82.69,1.27],[82.73,1.11],[82.77,1.61],[82.82,1.53],[82.87,1.53],[82.94,1.5],[83.08,1.5],[83.19,1.5],[83.26,1.38],[83.30,1.0],[83.33,0.31],[83.36,-0.3],[83.40,0.85],[83.43,0.54],[83.46,0.0],[83.52,-0.15],[83.58,0.08],[83.66,0.08],[83.72,0.31],[83.78,0.39],[83.83,0.31],[83.88,0.0],[83.93,0.08],[83.99,-0.07],[84.05,-0.07],[84.13,-0.03],[84.19,-0.18],[84.24,-0.3],[84.30,-0.37],[84.35,-0.68],[84.40,-0.07],[84.45,-0.22],[84.52,-0.15],[84.58,0.08],[84.63,0.39],[84.67,0.5],[84.74,0.69],[84.80,0.85],[84.87,1.11],[84.95,1.15],[85.02,1.23],[85.10,1.3],[85.18,1.38],[85.23,1.53],[85.30,1.61],[85.34,1.53],[85.37,1.99],[85.41,1.46],[85.45,0.77],[85.49,1.27],[85.53,1.08],[85.59,1.23],[85.65,1.15],[85.70,1.38],[85.75,1.08],[85.80,1.27],[85.86,1.23],[85.92,1.46],[86.0,1.46],[86.07,1.42],[86.15,1.38],[86.23,1.38],[86.28,1.27],[86.32,1.84],[86.37,2.06],[86.40,2.56],[86.43,2.49],[86.46,3.1],[86.49,2.6],[86.53,1.84],[86.56,1.46],[86.60,1.11],[86.66,1.19],[86.71,1.08],[86.78,0.92],[86.84,0.54],[86.89,0.39],[86.95,0.24],[87.01,0.16],[87.09,0.16],[87.17,0.16],[87.24,0.14],[87.29,0.35],[87.32,0.08],[87.37,-0.15],[87.41,-0.68],[87.46,-1.44],[87.49,-0.98],[87.54,-0.53],[87.59,-0.37],[87.65,-0.45],[87.71,-0.49],[87.77,-0.53],[87.83,-0.64],[87.88,-0.6],[87.94,-0.53],[88.02,-0.57],[88.10,-0.6],[88.18,-0.64],[88.26,-0.68],[88.32,-0.98],[88.37,-1.1],[88.43,-1.06],[88.49,-1.21],[88.55,-1.37],[88.63,-1.47],[88.68,-1.21],[88.74,-0.98],[88.80,-0.76],[88.86,-0.6],[88.92,-0.37],[88.99,-0.3],[89.07,-0.26],[89.15,-0.18],[89.23,-0.15],[89.28,-0.07],[89.33,0.31],[89.38,0.69],[89.44,1.0],[89.50,1.46],[89.56,1.61],[89.64,1.65],[89.72,1.46],[89.80,1.33],[89.85,1.46],[89.90,1.30],[89.96,1.02],[90.02,0.86],[90.15,0.85],[90.25,0.83],[90.30,0.96],[90.37,0.77],[90.42,0.08],[90.47,0.08],[90.52,1.46],[90.57,1.33],[90.62,1.27],[90.67,1.39],[90.75,1.21],[90.80,1.46],[90.87,1.18],[90.96,1.14],[91.08,1.08],[91.21,1.05],[91.27,1.08],[91.33,1.58],[91.40,2.3],[91.45,1.96],[91.50,1.77],[91.55,0.71],[91.62,0.08],[91.65,-0.38],[91.71,-0.69],[91.77,-1.34],[91.83,-0.91],[91.89,-0.53],[91.95,-0.22],[92.04,-0.01],[92.14,0.09],[92.24,0.15],[92.29,0.24],[92.33,0.36],[92.42,0.9],[92.52,1.39],[92.58,1.08],[92.64,0.71],[92.71,0.52],[92.77,0.39],[92.83,0.21],[92.92,0.08],[93.02,-0.04],[93.14,-0.1],[93.27,-0.22],[93.37,-0.41],[93.45,-0.53],[93.52,-0.78],[93.58,-0.53],[93.64,-0.22],[93.70,-0.01],[93.77,0.15],[93.83,0.18],[93.89,0.02],[94.01,-0.01],[94.14,0.02],[94.26,-0.01],[94.39,-0.16],[94.45,-0.69],[94.54,-0.53],[94.64,-0.35],[94.74,-0.22],[94.83,-0.63],[94.89,-1.16],[94.95,-1.28],[95.04,-1.09],[95.14,-0.91],[95.26,-0.78],[95.39,-0.63],[95.49,-0.22],[95.54,-0.53],[95.61,-0.91],[95.70,-1.25],[95.79,-1.34],[95.89,-1.34],[95.98,-1.47],[96.07,-1.59],[96.16,-1.72],[96.26,-1.84],[96.32,-2.15],[96.36,-2.31],[96.41,-1.96],[96.46,-1.59],[96.51,-1.84],[96.57,-2.34],[96.63,-2.37],[96.70,-2.03],[96.76,-1.53],[96.82,-1.59],[96.88,-1.78],[96.94,-1.84],[97.03,-1.78],[97.11,-1.72],[97.19,-1.62],[97.26,-1.59],[97.32,-1.65],[97.38,-2.09],[97.44,-2.71],[97.48,-3.2],[97.53,-3.2],[97.57,-1.78],[97.63,-0.85],[97.69,-0.53],[97.74,-1.09],[97.79,-1.43],[97.84,-0.94],[97.91,-0.53],[98.0,-0.6],[98.10,-0.69],[98.19,-0.75],[98.32,-0.72],[98.45,-0.7]];

var biology = [[80.51,-0.37],[80.56,-0.22],[80.62,-0.07],[80.70,0.24],[80.76,0.47],[80.82,0.69],[80.87,0.71],[80.93,0.66],[81.0,0.58],[81.05,0.66],[81.13,0.69],[81.21,0.70],[81.29,0.69],[81.36,0.71],[81.42,0.81],[81.48,0.9],[81.54,0.9],[81.60,0.85],[81.64,0.69],[81.67,0.47],[81.71,0.24],[81.75,0.08],[81.81,-0.07],[81.87,-0.22],[81.95,-0.37],[82.02,-0.45],[82.12,-0.49],[82.22,-0.57],[82.30,-0.64],[82.35,-0.83],[82.41,-0.98],[82.48,-1.14],[82.53,-1.18],[82.59,-1.18],[82.65,-1.06],[82.71,-0.83],[82.76,-0.68],[82.82,-0.66],[82.88,-0.79],[82.94,-0.83],[83.02,-0.87],[83.10,-0.87],[83.18,-0.83],[83.23,-0.76],[83.29,-0.53],[83.33,-0.37],[83.39,-0.3],[83.44,-0.26],[83.50,-0.3],[83.57,-0.3],[83.62,-0.37],[83.68,-0.45],[83.72,-0.53],[83.77,-0.57],[83.82,-0.6],[83.86,-0.37],[83.89,-0.07],[83.93,0.08],[83.99,0.12],[84.05,0.12],[84.13,0.12],[84.21,0.08],[84.28,0.04],[84.35,0.0],[84.40,0.0],[84.48,-0.03],[84.56,-0.11],[84.63,-0.18],[84.71,-0.3],[84.79,-0.37],[84.84,-0.56],[84.89,-0.76],[84.95,-0.78],[85.02,-0.78],[85.10,-0.79],[85.18,-0.81],[85.26,-0.83],[85.33,-0.79],[85.41,-0.72],[85.49,-0.68],[85.57,-0.66],[85.65,-0.62],[85.72,-0.62],[85.80,-0.68],[85.86,-0.83],[85.90,-1.06],[85.96,-1.4],[86.01,-1.46],[86.09,-1.44],[86.17,-1.4],[86.23,-1.37],[86.29,-1.33],[86.35,-1.37],[86.40,-1.52],[86.45,-1.61],[86.50,-1.63],[86.56,-1.6],[86.62,-1.52],[86.68,-1.37],[86.74,-1.14],[86.79,-0.83],[86.85,-0.45],[86.92,-0.07],[86.97,0.08],[87.05,0.12],[87.13,0.12],[87.20,0.1],[87.26,0.08],[87.31,0.04],[87.36,0.16],[87.41,0.31],[87.48,0.39],[87.54,0.37],[87.59,0.31],[87.67,0.24],[87.75,0.16],[87.80,0.12],[87.87,0.2],[87.94,0.24],[88.02,0.27],[88.10,0.31],[88.18,0.31],[88.26,0.35],[88.33,0.39],[88.41,0.47],[88.49,0.54],[88.57,0.62],[88.64,0.68],[88.71,0.66],[88.76,0.54],[88.82,0.24],[88.86,-0.07],[88.92,-0.3],[88.97,-0.45],[89.03,-0.53],[89.10,-0.53],[89.15,-0.53],[89.21,-0.57],[89.27,-0.6],[89.33,-0.64],[89.38,-0.68],[89.44,-0.76],[89.50,-0.83],[89.58,-0.98],[89.66,-1.06],[89.74,-1.09],[89.84,-1.06],[89.93,-0.85],[90.0,-0.72],[90.09,-0.69],[90.17,-0.72],[90.27,-0.78],[90.37,-0.81],[90.46,-0.69],[90.55,-0.66],[90.65,-0.63],[90.75,-0.53],[90.84,-0.38],[90.92,-0.22],[91.02,-0.1],[91.12,-0.04],[91.21,0.02],[91.27,0.06],[91.33,0.08],[91.52,0.27],[91.71,0.46],[91.81,0.58],[91.90,0.46],[91.96,0.21],[92.0,0.0],[92.04,-0.22],[92.08,-0.24],[92.14,-0.22],[92.21,-0.25],[92.27,-0.32],[92.37,-0.38],[92.46,-0.35],[92.52,-0.41],[92.62,-0.53],[92.71,-0.66],[92.77,-0.63],[92.87,-0.53],[92.96,-0.38],[93.02,-0.41],[93.14,-0.47],[93.24,-0.53],[93.33,-0.57],[93.45,-0.53],[93.58,-0.5],[93.70,-0.53],[93.83,-0.6],[93.95,-0.6],[94.08,-0.53],[94.20,-0.47],[94.29,-0.38],[94.39,-0.29],[94.49,-0.22],[94.58,-0.19],[94.66,-0.22],[94.76,-0.19],[94.83,-0.1],[94.89,0.21],[94.91,0.33],[94.96,0.64],[95.04,0.63],[95.14,0.61],[95.24,0.58],[95.32,0.49],[95.39,0.39],[95.45,0.38],[95.51,0.43],[95.61,0.46],[95.70,0.52],[95.76,0.71],[95.82,0.89],[95.89,1.14],[95.95,1.27],[96.04,1.36],[96.13,1.43],[96.23,1.52],[96.32,1.58],[96.45,1.61],[96.57,1.68],[96.66,1.74],[96.76,1.61],[96.86,1.55],[96.95,1.55],[97.03,1.5],[97.13,1.46],[97.23,1.39],[97.32,1.43],[97.41,1.64],[97.51,1.61],[97.61,1.58],[97.69,1.58],[97.76,1.61],[97.82,1.75],[97.88,1.64],[97.94,1.52],[98.0,1.39],[98.13,1.36],[98.26,1.33],[98.35,1.21],[98.45,1.1]];

var airSea = [[80.48,0.73],[80.62,0.71],[80.74,0.69],[80.86,0.69],[80.97,0.66],[81.09,0.66],[81.17,0.62],[81.25,0.54],[81.32,0.43],[81.40,0.27],[81.48,0.16],[81.54,0.2],[81.60,0.16],[81.67,0.12],[81.75,0.08],[81.83,0.12],[81.91,0.16],[81.99,0.2],[82.06,0.24],[82.17,0.31],[82.26,0.39],[82.34,0.5],[82.41,0.62],[82.48,0.66],[82.54,0.54],[82.61,0.47],[82.69,0.39],[82.76,0.31],[82.84,0.31],[82.92,0.24],[83.0,0.2],[83.08,0.18],[83.15,0.14],[83.23,0.12],[83.31,0.08],[83.39,0.08],[83.47,0.16],[83.54,0.24],[83.62,0.31],[83.70,0.35],[83.78,0.39],[83.86,0.43],[83.93,0.31],[84.01,0.24],[84.09,0.16],[84.17,0.08],[84.24,0.0],[84.32,-0.07],[84.40,-0.15],[84.48,-0.26],[84.56,-0.37],[84.63,-0.47],[84.71,-0.49],[84.79,-0.45],[84.87,-0.37],[84.95,-0.3],[85.02,-0.22],[85.10,-0.15],[85.18,-0.07],[85.26,0.0],[85.33,0.04],[85.41,0.08],[85.49,0.12],[85.57,0.14],[85.65,0.16],[85.72,0.12],[85.80,0.1],[85.88,0.08],[85.96,0.04],[86.04,0.0],[86.11,-0.03],[86.19,-0.07],[86.27,-0.03],[86.35,0.04],[86.40,0.12],[86.46,0.08],[86.54,0.04],[86.62,0.04],[86.70,0.02],[86.78,0.0],[86.85,-0.03],[86.93,-0.07],[87.01,-0.11],[87.09,-0.13],[87.17,-0.15],[87.24,-0.15],[87.32,-0.18],[87.40,-0.3],[87.46,-0.37],[87.52,-0.3],[87.59,-0.22],[87.67,-0.18],[87.75,-0.15],[87.83,-0.13],[87.91,-0.11],[87.98,-0.09],[88.06,-0.07],[88.14,-0.05],[88.22,-0.07],[88.29,-0.11],[88.37,-0.15],[88.45,-0.13],[88.53,-0.11],[88.61,-0.09],[88.68,-0.07],[88.76,-0.11],[88.84,-0.13],[88.92,-0.15],[89.00,-0.13],[89.07,-0.11],[89.15,-0.07],[89.23,-0.07],[89.31,0.0],[89.39,0.08],[89.46,0.12],[89.54,0.04],[89.62,0.0],[89.70,-0.03],[89.78,0.09],[89.90,0.02],[90.02,-0.07],[90.15,-0.13],[90.27,-0.16],[90.40,-0.13],[90.46,-0.19],[90.52,-0.16],[90.65,-0.13],[90.77,-0.1],[90.90,-0.07],[91.02,-0.04],[91.15,-0.05],[91.27,-0.1],[91.40,-0.07],[91.52,-0.1],[91.65,-0.01],[91.77,0.09],[91.90,0.12],[92.02,0.15],[92.15,0.21],[92.25,0.24],[92.33,0.18],[92.46,0.09],[92.58,0.02],[92.71,-0.01],[92.83,-0.04],[92.96,-0.07],[93.08,-0.1],[93.21,-0.1],[93.33,-0.07],[93.45,-0.01],[93.58,0.06],[93.70,0.09],[93.83,0.12],[93.95,0.09],[94.08,0.06],[94.20,0.06],[94.33,0.06],[94.45,0.09],[94.58,0.09],[94.70,0.07],[94.83,0.06],[94.95,0.01],[95.07,-0.04],[95.20,-0.05],[95.32,-0.07],[95.45,-0.05],[95.57,-0.04],[95.70,-0.01],[95.82,0.01],[95.95,0.02],[96.03,0.04],[96.13,-0.01],[96.26,-0.07],[96.38,-0.1],[96.51,-0.22],[96.61,-0.35],[96.70,-0.35],[96.82,-0.41],[96.95,-0.44],[97.07,-0.47],[97.19,-0.5],[97.32,-0.53],[97.41,-0.63],[97.51,-0.53],[97.63,-0.47],[97.76,-0.47],[97.88,-0.5],[98.01,-0.53],[98.13,-0.55],[98.32,-0.53],[98.45,-0.55]];

var dicRate = [[80.48,1.04],[80.50,-0.45],[80.53,-1.21],[80.56,-1.4],[80.59,-1.06],[80.62,-0.91],[80.65,-1.02],[80.69,-0.95],[80.72,-0.98],[80.75,-0.87],[80.78,-0.95],[80.82,-0.68],[80.86,-0.41],[80.92,-0.37],[81.01,-0.36],[81.11,-0.37],[81.17,-0.34],[81.23,-0.41],[81.29,-0.07],[81.32,0.05],[81.36,0.08],[81.40,-0.37],[81.44,-0.64],[81.48,-0.68],[81.53,-0.83],[81.57,-0.26],[81.62,0.5],[81.67,0.85],[81.71,0.96],[81.75,0.77],[81.79,0.62],[81.83,0.81],[81.87,0.62],[81.92,0.31],[81.96,0.35],[82.02,0.24],[82.09,0.31],[82.14,0.31],[82.20,0.24],[82.26,0.24],[82.31,0.39],[82.34,1.08],[82.38,1.84],[82.41,2.41],[82.45,2.76],[82.49,2.91],[82.54,2.6],[82.59,1.84],[82.63,1.08],[82.68,0.31],[82.71,0.24],[82.74,0.62],[82.77,1.0],[82.80,0.85],[82.84,0.62],[82.88,0.58],[82.94,0.62],[83.0,0.58],[83.08,0.58],[83.15,0.54],[83.21,0.5],[83.26,0.39],[83.29,0.31],[83.32,-0.26],[83.35,-0.3],[83.38,0.08],[83.41,-0.45],[83.44,-1.21],[83.47,-1.52],[83.50,-0.45],[83.54,0.31],[83.57,0.92],[83.60,0.62],[83.63,0.85],[83.68,1.0],[83.71,0.69],[83.75,1.0],[83.80,0.85],[83.83,0.54],[83.86,0.05],[83.89,0.54],[83.93,0.54],[83.97,0.5],[84.03,0.47],[84.09,0.39],[84.14,0.35],[84.21,0.31],[84.25,0.24],[84.28,0.08],[84.32,-0.07],[84.36,-0.15],[84.39,0.24],[84.42,0.85],[84.45,1.3],[84.49,0.69],[84.52,-0.22],[84.56,-0.3],[84.60,-0.26],[84.63,-0.26],[84.67,-0.07],[84.71,0.12],[84.75,0.24],[84.79,0.31],[84.83,0.24],[84.89,0.31],[84.95,0.24],[85.0,0.31],[85.06,0.35],[85.12,0.39],[85.18,0.24],[85.23,0.39],[85.28,0.54],[85.33,0.47],[85.36,0.69],[85.39,0.92],[85.42,0.31],[85.45,-0.07],[85.49,0.31],[85.53,0.2],[85.57,0.31],[85.61,0.39],[85.65,0.31],[85.69,0.47],[85.72,0.54],[85.76,0.31],[85.80,0.5],[85.84,0.24],[85.88,0.12],[85.92,0.08],[85.98,0.0],[86.04,0.0],[86.09,-0.03],[86.15,-0.03],[86.21,-0.07],[86.26,-0.15],[86.29,0.08],[86.32,0.35],[86.36,0.5],[86.39,0.85],[86.42,1.08],[86.45,1.46],[86.48,1.34],[86.51,0.77],[86.54,0.54],[86.57,0.24],[86.60,-0.22],[86.64,-0.37],[86.68,-0.68],[86.71,-0.45],[86.76,-0.68],[86.81,-0.45],[86.85,-0.37],[86.89,-0.37],[86.93,-0.3],[86.97,-0.22],[87.01,-0.3],[87.09,-0.26],[87.17,-0.22],[87.24,-0.26],[87.29,-0.15],[87.34,-0.26],[87.38,-0.64],[87.41,-1.21],[87.45,-1.78],[87.48,-2.34],[87.51,-1.6],[87.54,-0.45],[87.57,-0.15],[87.60,-0.34],[87.63,-0.07],[87.67,-0.45],[87.71,-0.6],[87.75,-0.53],[87.79,-0.45],[87.83,-0.57],[87.88,-0.45],[87.94,-0.41],[88.0,-0.45],[88.06,-0.37],[88.10,-0.3],[88.16,-0.34],[88.21,-0.3],[88.26,-0.37],[88.29,-0.45],[88.33,-0.6],[88.37,-0.68],[88.41,-0.53],[88.45,-0.3],[88.49,-0.53],[88.53,-0.68],[88.57,-0.83],[88.61,-0.91],[88.64,-0.76],[88.68,-0.45],[88.72,-0.3],[88.76,-0.22],[88.80,-0.37],[88.84,-0.53],[88.88,-0.6],[88.92,-0.6],[88.96,-0.6],[89.02,-0.57],[89.07,-0.57],[89.13,-0.53],[89.19,-0.53],[89.25,-0.53],[89.30,-0.45],[89.33,-0.07],[89.36,0.31],[89.39,0.5],[89.42,0.54],[89.45,0.24],[89.49,0.85],[89.53,1.02],[89.60,0.83],[89.65,0.92],[89.71,0.58],[89.78,0.71],[89.84,0.52],[89.90,0.46],[89.96,0.33],[90.02,0.33],[90.09,0.21],[90.17,0.27],[90.27,0.24],[90.34,-0.19],[90.42,-0.85],[90.50,-0.3],[90.55,0.5],[90.59,0.8],[90.72,0.86],[90.85,0.55],[90.97,0.86],[91.1,0.91],[91.22,0.89],[91.31,0.96],[91.37,2.08],[91.42,1.43],[91.47,0.71],[91.52,-0.38],[91.56,-1.28],[91.58,-1.65],[91.62,-0.85],[91.67,-0.38],[91.72,-0.69],[91.77,-0.53],[91.83,-0.78],[91.87,-0.38],[91.92,-0.22],[91.97,-0.47],[92.02,-0.29],[92.08,-0.41],[92.14,-0.35],[92.21,-0.1],[92.27,-0.04],[92.32,0.15],[92.37,0.4],[92.46,0.27],[92.52,0.8],[92.57,0.96],[92.62,0.52],[92.67,0.24],[92.74,0.08],[92.77,-0.04],[92.83,-0.22],[92.89,-0.53],[92.95,-0.66],[93.02,-0.41],[93.08,-0.53],[93.14,-0.72],[93.20,-0.6],[93.27,-0.91],[93.33,-1.0],[93.39,-0.53],[93.45,-0.38],[93.52,-0.44],[93.58,-0.6],[93.64,-0.38],[93.70,-0.32],[93.77,-0.41],[93.83,-0.32],[93.89,-0.35],[93.95,-0.29],[94.01,-0.38],[94.11,-0.35],[94.20,-0.53],[94.29,-0.41],[94.36,-0.78],[94.41,-1.31],[94.46,-0.69],[94.51,-0.53],[94.58,-0.47],[94.64,-0.53],[94.70,-0.6],[94.76,-0.53],[94.83,-0.47],[94.89,-0.53],[94.95,-0.6],[95.01,-0.66],[95.07,-0.69],[95.14,-0.72],[95.24,-0.81],[95.32,-0.91],[95.41,-0.97],[95.49,-1.06],[95.54,-1.16],[95.61,-0.94],[95.66,-1.31],[95.73,-1.16],[95.79,-0.85],[95.86,-0.53],[95.91,-0.47],[95.98,-0.41],[96.07,-0.41],[96.16,-0.44],[96.23,-0.53],[96.32,-0.44],[96.38,-0.16],[96.42,-0.22],[96.47,-0.53],[96.51,-0.85],[96.56,-0.53],[96.61,-0.38],[96.66,-0.6],[96.71,-0.85],[96.76,-0.16],[96.81,-0.53],[96.86,-0.38],[96.92,-0.53],[96.97,-0.6],[97.04,-0.6],[97.11,-0.63],[97.16,-0.53],[97.24,-0.6],[97.29,-0.85],[97.34,-1.16],[97.39,-1.47],[97.44,-1.78],[97.48,-1.87],[97.53,-1.16],[97.57,-0.22],[97.58,0.64],[97.63,0.55],[97.68,0.21],[97.73,0.08],[97.76,-0.07],[97.79,-0.16],[97.82,0.55],[97.88,0.46],[97.94,0.39],[98.0,0.33],[98.10,0.33],[98.19,0.32],[98.32,0.36],[98.45,0.34]];

var FONT = '"Liberation Sans", Arial, Helvetica, sans-serif';
var INK = '#1a1a1a';
var ORANGE = '#e0562b', BLUE = '#1d55ad', RED = '#c62b36', BLUE2 = '#2257b5', GREEN = '#14aa4c';

function xAxes(grid, min, max, margin, hideAbove) {
    var base = {
        type: 'value', gridIndex: grid, min: min, max: max, interval: 5,
        splitLine: { show: false },
        axisLine: { show: true, onZero: false, lineStyle: { color: INK, width: 3 } },
        axisTick: { show: true, inside: true, length: 11, lineStyle: { color: INK, width: 2 } }
    };
    var bottom = Object.assign({}, base, {
        position: 'bottom',
        axisLabel: {
            show: true, margin: margin, fontSize: 42, color: '#111', fontFamily: FONT,
            formatter: function (v) { return (v % 5 === 0 && v < hideAbove) ? String(v) : ''; }
        }
    });
    var top = Object.assign({}, base, {
        position: 'top',
        axisLine: { show: true, onZero: false, lineStyle: { color: INK, width: 2 } },
        axisLabel: { show: false }
    });
    return [bottom, top];
}

function yAxes(grid, min, max, interval) {
    var base = {
        type: 'value', gridIndex: grid, min: min, max: max, interval: interval,
        splitLine: { show: false },
        axisLine: { show: true, onZero: false, lineStyle: { color: '#333', width: 2 } },
        axisTick: { show: true, inside: true, length: 11, lineStyle: { color: INK, width: 2 } }
    };
    var left = Object.assign({}, base, {
        position: 'left',
        axisLabel: { show: true, margin: 14, fontSize: 42, color: '#111', fontFamily: FONT }
    });
    var right = Object.assign({}, base, { position: 'right', axisLabel: { show: false } });
    return [left, right];
}

function line(data, color, xi, yi, z, w) {
    return {
        type: 'line', data: data, xAxisIndex: xi, yAxisIndex: yi,
        symbol: 'none', showSymbol: false, clip: true, z: z,
        lineStyle: { color: color, width: w || 3 },
        emphasis: { disabled: true }
    };
}

function label(text, x, y, size, color, align, rot) {
    return {
        type: 'text', x: x, y: y, z: 50, rotation: rot || 0,
        style: {
            text: text, fill: color, fontSize: size, fontFamily: FONT,
            align: align || 'left', verticalAlign: 'middle'
        }
    };
}

var chart = echarts.init(document.getElementById('chart'), null, { renderer: 'canvas' });

var xs = [].concat(xAxes(0, 1980, 1999, 16, 2000), xAxes(1, 1980, 1999, 16, 2000), xAxes(2, 80, 100, 15, 99));
var ys = [].concat(yAxes(0, -40, 40, 20), yAxes(1, -10, 10, 5), yAxes(2, -3, 3, 1));

var gridBase = { show: true, borderColor: INK, borderWidth: 2, containLabel: false, outerBoundsMode: 'none' };

var option = {
    animation: false,
    backgroundColor: '#ffffff',
    grid: [
        Object.assign({ left: 210, top: 45, width: 829, height: 653 }, gridBase),
        Object.assign({ left: 210, top: 871, width: 829, height: 651 }, gridBase),
        Object.assign({ left: 1340, top: 423, width: 856, height: 641 }, gridBase)
    ],
    xAxis: xs,
    yAxis: ys,
    series: [
        line(spDic, ORANGE, 0, 0, 2),
        line(spTemp, BLUE, 0, 0, 3),
        line(spPco2, '#111', 0, 0, 4, 3.4),
        line(stDic, ORANGE, 2, 2, 2),
        line(stTemp, BLUE, 2, 2, 3),
        line(stPco2, '#111', 2, 2, 4, 3.4),
        line(convection, '#111', 4, 4, 2, 3.2),
        line(biology, GREEN, 4, 4, 3),
        line(airSea, BLUE2, 4, 4, 4),
        line(dicRate, RED, 4, 4, 5)
    ],
    graphic: [
        { type: 'line', shape: { x1: 0, y1: 1335, x2: 136, y2: 1549 }, style: { stroke: '#222', lineWidth: 4 }, z: 50 },
        label('Subpolar Gyre', 1016, 88, 62, '#222', 'right'),
        label('Subtropical Gyre', 1000, 923, 62, '#222', 'right'),
        label('45 N - 90 N', 99, 370, 44, '#111', 'center', Math.PI / 2),
        label('15 N - 45 N', 124, 1214, 44, '#111', 'center', Math.PI / 2),
        label('dpCO', 224, 1486, 43, '#222'),
        label('2', 337, 1500, 33, '#222'),
        label('/dt', 356, 1486, 43, '#222'),
        label('DIC', 472, 1486, 43, ORANGE),
        label('Temperature', 596, 1486, 43, BLUE),
        label('dDIC/dt', 1420, 994, 43, RED),
        label('Convection', 1692, 997, 43, '#222'),
        label('Air-Sea Flux', 1519, 1038, 43, BLUE2),
        label('Biology', 1881, 1038, 43, GREEN),
        label('Figure 6: Subpolar DIC', 1721, 1175, 63, '#222', 'center'),
        label('components (mol/m\u00b2/yr)', 1728, 1251, 63, '#222', 'center')
    ]
};

chart.setOption(option);
</script>
</body>
</html>
